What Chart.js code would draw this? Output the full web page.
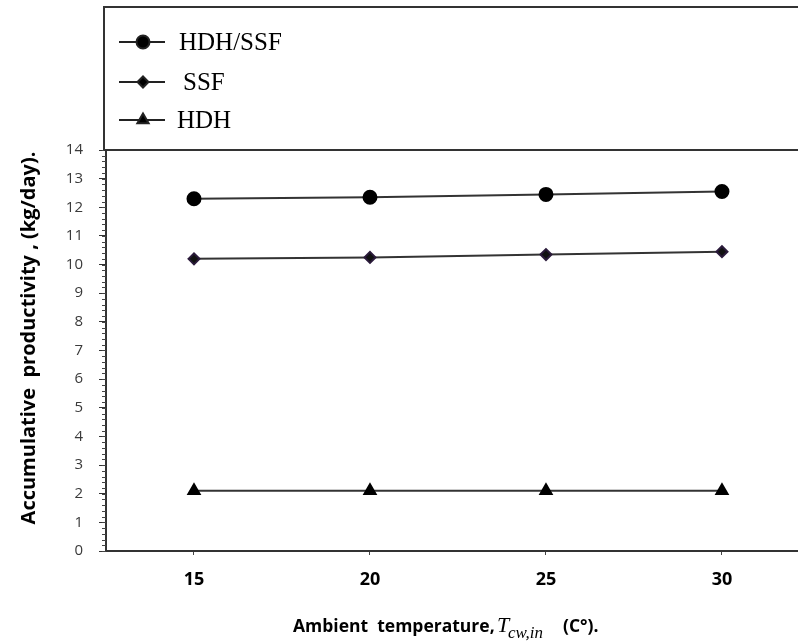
<!DOCTYPE html>
<html>
<head>
<meta charset="utf-8">
<script src="https://cdn.jsdelivr.net/npm/chart.js@4"></script>
<style>
  html, body { margin: 0; padding: 0; background: #fff; }
  #wrap { width: 798px; height: 641px; }
</style>
</head>
<body>
<div id="wrap"><canvas id="c" width="798" height="641"></canvas></div>
<script>
// ambient temperature (C)
var temps = [15, 20, 25, 30];
// accumulative productivity, kg/day
var hdhSsf = [12.3, 12.35, 12.45, 12.55];
var ssf = [10.2, 10.25, 10.35, 10.45];
var hdh = [2.1, 2.1, 2.1, 2.1];
var yTicks = [0, 1, 2, 3, 4, 5, 6, 7, 8, 9, 10, 11, 12, 13, 14];

function pts(arr) {
  return temps.map(function (t, i) { return { x: t, y: arr[i] }; });
}

var sans = "'Open Sans', 'Liberation Sans', sans-serif";
var serif = "'Liberation Serif', 'DejaVu Serif', serif";

// legend box, frame lines, minor ticks and axis titles
var extras = {
  id: 'extras',
  afterDraw: function (chart) {
    var ctx = chart.ctx;
    var a = chart.chartArea;
    var ys = chart.scales.y;
    ctx.save();

    // minor ticks on y axis
    ctx.strokeStyle = '#444';
    ctx.lineWidth = 1;
    for (var v = 0; v <= 14.001; v += 0.2) {
      var py = Math.round(ys.getPixelForValue(v)) + 0.5;
      ctx.beginPath();
      ctx.moveTo(a.left - 4, py);
      ctx.lineTo(a.left, py);
      ctx.stroke();
    }

    // legend frame
    ctx.strokeStyle = '#333';
    ctx.lineWidth = 2;
    ctx.beginPath();
    ctx.moveTo(104, 150);
    ctx.lineTo(104, 7);
    ctx.lineTo(798, 7);
    ctx.moveTo(104, a.top);
    ctx.lineTo(798, a.top);
    ctx.stroke();

    // legend entries
    var rows = [42, 82, 120];
    var textX = [179, 183, 177];
    chart.data.datasets.forEach(function (ds, i) {
      var y = rows[i];
      ctx.strokeStyle = '#222';
      ctx.lineWidth = 2;
      ctx.beginPath();
      ctx.moveTo(119, y);
      ctx.lineTo(165, y);
      ctx.stroke();
      Chart.helpers.drawPoint(ctx, {
        pointStyle: ds.pointStyle,
        radius: ds.pointRadius,
        borderWidth: 1
      }, 143, y);
      ctx.fillStyle = '#000';
      ctx.font = '25px ' + serif;
      ctx.textBaseline = 'middle';
      ctx.textAlign = 'left';
      ctx.fillText(ds.label, textX[i], y + 1);
    });

    // y axis title
    ctx.save();
    ctx.translate(29, 338);
    ctx.rotate(-Math.PI / 2);
    ctx.fillStyle = '#000';
    ctx.font = 'bold 20px ' + sans;
    ctx.textAlign = 'center';
    ctx.textBaseline = 'middle';
    ctx.fillText('Accumulative  productivity , (kg/day).', 0, 0);
    ctx.restore();

    // x axis title with italic subscript symbol
    var parts = [
      { t: 'Ambient  temperature,', f: 'bold 17.5px ' + sans, x: 293, dy: 0 },
      { t: 'T', f: 'italic 22px ' + serif, x: 497, dy: 0 },
      { t: 'cw,in', f: 'italic 17px ' + serif, x: 508, dy: 6 },
      { t: '(C\u00b0).', f: 'bold 17.5px ' + sans, x: 563, dy: 0 }
    ];
    ctx.textBaseline = 'alphabetic';
    ctx.textAlign = 'left';
    ctx.fillStyle = '#000';
    parts.forEach(function (p) {
      ctx.font = p.f;
      ctx.fillText(p.t, p.x, 632 + p.dy);
    });

    ctx.restore();
  }
};

new Chart(document.getElementById('c'), {
  type: 'line',
  data: {
    datasets: [
      {
        label: 'HDH/SSF',
        data: pts(hdhSsf),
        borderColor: '#333',
        borderWidth: 2,
        pointStyle: 'circle',
        pointRadius: 6.5,
        pointBackgroundColor: '#000',
        pointBorderColor: '#000'
      },
      {
        label: 'SSF',
        data: pts(ssf),
        borderColor: '#333',
        borderWidth: 2,
        pointStyle: 'rectRot',
        pointRadius: 5.5,
        pointBackgroundColor: '#111',
        pointBorderColor: '#2a1a3a'
      },
      {
        label: 'HDH',
        data: pts(hdh),
        borderColor: '#333',
        borderWidth: 2,
        pointStyle: 'triangle',
        pointRadius: 6.5,
        pointBackgroundColor: '#000',
        pointBorderColor: '#000'
      }
    ]
  },
  options: {
    responsive: false,
    animation: false,
    layout: {
      autoPadding: false,
      padding: { top: 150, right: 0, left: 0, bottom: 0 }
    },
    plugins: {
      legend: { display: false },
      tooltip: { enabled: false }
    },
    scales: {
      x: {
        type: 'linear',
        min: 12.5,
        max: 32.16,
        afterBuildTicks: function (s) {
          s.ticks = temps.map(function (t) { return { value: t }; });
        },
        afterFit: function (s) {
          s.height = 90;
          s.paddingLeft = 0;
          s.paddingRight = 0;
        },
        grid: {
          drawOnChartArea: false,
          tickLength: 4,
          color: '#444'
        },
        border: { color: '#333', width: 2 },
        ticks: {
          color: '#000',
          padding: 14,
          font: { family: sans, size: 18, weight: 'bold' }
        }
      },
      y: {
        min: 0,
        max: 14,
        afterBuildTicks: function (s) {
          s.ticks = yTicks.map(function (t) { return { value: t }; });
        },
        afterFit: function (s) {
          s.width = 106;
          s.paddingTop = 0;
          s.paddingBottom = 0;
        },
        grid: {
          drawOnChartArea: false,
          tickLength: 7,
          color: '#333'
        },
        border: { color: '#333', width: 2 },
        ticks: {
          color: '#3a3a3a',
          padding: 16,
          font: { family: sans, size: 15 }
        }
      }
    }
  },
  plugins: [extras]
});
</script>
</body>
</html>
